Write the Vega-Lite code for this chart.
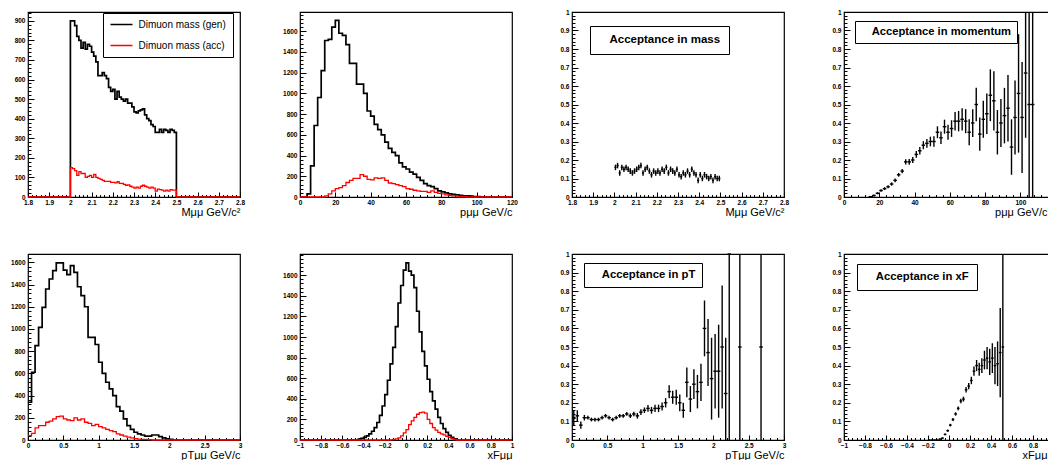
{
"$schema": "https://vega.github.io/schema/vega-lite/v6.json",
"background": "white",
"padding": {"left": 9, "top": 8, "right": 0, "bottom": 0},
"columns": 4,
"spacing": {"row": 57, "column": 60},
"bounds": "flush",
"resolve": {"scale": {"color": "independent"}, "legend": {"color": "independent"}},
"datasets": {
"m_gen": [{"x":1.8,"y":0},{"x":2,"y":900},{"x":2.01,"y":900},{"x":2.02,"y":875},{"x":2.03,"y":820},{"x":2.04,"y":800},{"x":2.05,"y":760},{"x":2.06,"y":790},{"x":2.07,"y":755},{"x":2.08,"y":780},{"x":2.09,"y":770},{"x":2.1,"y":740},{"x":2.11,"y":720},{"x":2.12,"y":690},{"x":2.13,"y":620},{"x":2.14,"y":620},{"x":2.15,"y":635},{"x":2.16,"y":620},{"x":2.17,"y":605},{"x":2.18,"y":560},{"x":2.19,"y":540},{"x":2.2,"y":550},{"x":2.21,"y":500},{"x":2.22,"y":540},{"x":2.23,"y":510},{"x":2.24,"y":500},{"x":2.25,"y":490},{"x":2.26,"y":500},{"x":2.27,"y":480},{"x":2.28,"y":480},{"x":2.29,"y":460},{"x":2.3,"y":435},{"x":2.31,"y":430},{"x":2.32,"y":440},{"x":2.33,"y":445},{"x":2.34,"y":450},{"x":2.35,"y":420},{"x":2.36,"y":400},{"x":2.37,"y":390},{"x":2.38,"y":370},{"x":2.39,"y":360},{"x":2.4,"y":330},{"x":2.41,"y":330},{"x":2.42,"y":345},{"x":2.43,"y":330},{"x":2.44,"y":345},{"x":2.45,"y":340},{"x":2.46,"y":330},{"x":2.47,"y":345},{"x":2.48,"y":340},{"x":2.49,"y":330},{"x":2.5,"y":0},{"x":2.8,"y":0}],
"m_acc": [{"x":1.8,"y":0},{"x":2,"y":150},{"x":2.01,"y":145},{"x":2.02,"y":135},{"x":2.03,"y":110},{"x":2.04,"y":130},{"x":2.05,"y":120},{"x":2.06,"y":120},{"x":2.07,"y":100},{"x":2.08,"y":105},{"x":2.09,"y":110},{"x":2.1,"y":100},{"x":2.11,"y":115},{"x":2.12,"y":100},{"x":2.13,"y":95},{"x":2.14,"y":90},{"x":2.15,"y":85},{"x":2.16,"y":80},{"x":2.17,"y":80},{"x":2.18,"y":80},{"x":2.19,"y":75},{"x":2.2,"y":75},{"x":2.21,"y":72},{"x":2.22,"y":78},{"x":2.23,"y":70},{"x":2.24,"y":70},{"x":2.25,"y":65},{"x":2.26,"y":60},{"x":2.27,"y":62},{"x":2.28,"y":55},{"x":2.29,"y":50},{"x":2.3,"y":45},{"x":2.31,"y":50},{"x":2.32,"y":45},{"x":2.33,"y":55},{"x":2.34,"y":60},{"x":2.35,"y":55},{"x":2.36,"y":50},{"x":2.37,"y":45},{"x":2.38,"y":50},{"x":2.39,"y":45},{"x":2.4,"y":30},{"x":2.41,"y":40},{"x":2.42,"y":38},{"x":2.43,"y":35},{"x":2.44,"y":30},{"x":2.45,"y":35},{"x":2.46,"y":30},{"x":2.47,"y":38},{"x":2.48,"y":35},{"x":2.49,"y":35},{"x":2.5,"y":0},{"x":2.8,"y":0}],
"m_eff": [{"x":2.005,"y":0.16,"ex":0.005,"ey":0.015},{"x":2.015,"y":0.17,"ex":0.005,"ey":0.015},{"x":2.025,"y":0.13,"ex":0.005,"ey":0.015},{"x":2.035,"y":0.16,"ex":0.005,"ey":0.015},{"x":2.045,"y":0.15,"ex":0.005,"ey":0.015},{"x":2.055,"y":0.16,"ex":0.005,"ey":0.015},{"x":2.065,"y":0.15,"ex":0.005,"ey":0.015},{"x":2.075,"y":0.14,"ex":0.005,"ey":0.015},{"x":2.085,"y":0.13,"ex":0.005,"ey":0.015},{"x":2.095,"y":0.14,"ex":0.005,"ey":0.015},{"x":2.105,"y":0.15,"ex":0.005,"ey":0.015},{"x":2.115,"y":0.16,"ex":0.005,"ey":0.015},{"x":2.125,"y":0.17,"ex":0.005,"ey":0.015},{"x":2.135,"y":0.13,"ex":0.005,"ey":0.015},{"x":2.145,"y":0.15,"ex":0.005,"ey":0.015},{"x":2.155,"y":0.16,"ex":0.005,"ey":0.015},{"x":2.165,"y":0.14,"ex":0.005,"ey":0.015},{"x":2.175,"y":0.12,"ex":0.005,"ey":0.015},{"x":2.185,"y":0.14,"ex":0.005,"ey":0.015},{"x":2.195,"y":0.13,"ex":0.005,"ey":0.015},{"x":2.205,"y":0.14,"ex":0.005,"ey":0.015},{"x":2.215,"y":0.13,"ex":0.005,"ey":0.015},{"x":2.225,"y":0.15,"ex":0.005,"ey":0.015},{"x":2.235,"y":0.14,"ex":0.005,"ey":0.015},{"x":2.245,"y":0.16,"ex":0.005,"ey":0.015},{"x":2.255,"y":0.13,"ex":0.005,"ey":0.015},{"x":2.265,"y":0.15,"ex":0.005,"ey":0.015},{"x":2.275,"y":0.14,"ex":0.005,"ey":0.015},{"x":2.285,"y":0.13,"ex":0.005,"ey":0.015},{"x":2.295,"y":0.15,"ex":0.005,"ey":0.015},{"x":2.305,"y":0.12,"ex":0.005,"ey":0.015},{"x":2.315,"y":0.11,"ex":0.005,"ey":0.015},{"x":2.325,"y":0.13,"ex":0.005,"ey":0.015},{"x":2.335,"y":0.12,"ex":0.005,"ey":0.015},{"x":2.345,"y":0.14,"ex":0.005,"ey":0.015},{"x":2.355,"y":0.12,"ex":0.005,"ey":0.015},{"x":2.365,"y":0.15,"ex":0.005,"ey":0.015},{"x":2.375,"y":0.13,"ex":0.005,"ey":0.015},{"x":2.385,"y":0.12,"ex":0.005,"ey":0.015},{"x":2.395,"y":0.09,"ex":0.005,"ey":0.015},{"x":2.405,"y":0.12,"ex":0.005,"ey":0.015},{"x":2.415,"y":0.1,"ex":0.005,"ey":0.015},{"x":2.425,"y":0.12,"ex":0.005,"ey":0.015},{"x":2.435,"y":0.11,"ex":0.005,"ey":0.015},{"x":2.445,"y":0.1,"ex":0.005,"ey":0.015},{"x":2.455,"y":0.11,"ex":0.005,"ey":0.015},{"x":2.465,"y":0.09,"ex":0.005,"ey":0.015},{"x":2.475,"y":0.11,"ex":0.005,"ey":0.015},{"x":2.485,"y":0.1,"ex":0.005,"ey":0.015},{"x":2.495,"y":0.1,"ex":0.005,"ey":0.015}],
"p_gen": [{"x":0,"y":0},{"x":2,"y":0},{"x":4,"y":30},{"x":6,"y":300},{"x":8,"y":690},{"x":10,"y":960},{"x":12,"y":1220},{"x":14,"y":1510},{"x":16,"y":1520},{"x":18,"y":1640},{"x":20,"y":1705},{"x":22,"y":1580},{"x":24,"y":1560},{"x":26,"y":1470},{"x":28,"y":1290},{"x":30,"y":1290},{"x":32,"y":1090},{"x":34,"y":1090},{"x":36,"y":1000},{"x":38,"y":830},{"x":40,"y":780},{"x":42,"y":700},{"x":44,"y":650},{"x":46,"y":600},{"x":48,"y":530},{"x":50,"y":470},{"x":52,"y":430},{"x":54,"y":400},{"x":56,"y":330},{"x":58,"y":290},{"x":60,"y":270},{"x":62,"y":240},{"x":64,"y":220},{"x":66,"y":190},{"x":68,"y":160},{"x":70,"y":130},{"x":72,"y":110},{"x":74,"y":100},{"x":76,"y":80},{"x":78,"y":60},{"x":80,"y":50},{"x":82,"y":40},{"x":84,"y":30},{"x":86,"y":25},{"x":88,"y":20},{"x":90,"y":15},{"x":92,"y":12},{"x":94,"y":10},{"x":96,"y":8},{"x":98,"y":5},{"x":100,"y":3},{"x":102,"y":2},{"x":104,"y":0},{"x":120,"y":0}],
"p_acc": [{"x":0,"y":0},{"x":14,"y":10},{"x":16,"y":30},{"x":18,"y":60},{"x":20,"y":80},{"x":22,"y":90},{"x":24,"y":110},{"x":26,"y":140},{"x":28,"y":160},{"x":30,"y":180},{"x":32,"y":180},{"x":34,"y":215},{"x":36,"y":200},{"x":38,"y":170},{"x":40,"y":165},{"x":42,"y":185},{"x":44,"y":180},{"x":46,"y":185},{"x":48,"y":160},{"x":50,"y":135},{"x":52,"y":130},{"x":54,"y":120},{"x":56,"y":110},{"x":58,"y":100},{"x":60,"y":80},{"x":62,"y":75},{"x":64,"y":65},{"x":66,"y":60},{"x":68,"y":55},{"x":70,"y":55},{"x":72,"y":45},{"x":74,"y":60},{"x":76,"y":45},{"x":78,"y":35},{"x":80,"y":30},{"x":82,"y":20},{"x":84,"y":15},{"x":86,"y":10},{"x":88,"y":8},{"x":90,"y":5},{"x":92,"y":3},{"x":94,"y":0},{"x":120,"y":0}],
"p_eff": [{"x":15,"y":0.002,"ex":1,"ey":0.003},{"x":17,"y":0.008,"ex":1,"ey":0.005},{"x":19,"y":0.02,"ex":1,"ey":0.006},{"x":21,"y":0.035,"ex":1,"ey":0.007},{"x":23,"y":0.045,"ex":1,"ey":0.008},{"x":25,"y":0.055,"ex":1,"ey":0.008},{"x":27,"y":0.07,"ex":1,"ey":0.009},{"x":29,"y":0.09,"ex":1,"ey":0.01},{"x":31,"y":0.12,"ex":1,"ey":0.01},{"x":33,"y":0.14,"ex":1,"ey":0.012},{"x":35,"y":0.19,"ex":1,"ey":0.014},{"x":37,"y":0.19,"ex":1,"ey":0.015},{"x":39,"y":0.2,"ex":1,"ey":0.016},{"x":41,"y":0.23,"ex":1,"ey":0.018},{"x":43,"y":0.25,"ex":1,"ey":0.02},{"x":45,"y":0.28,"ex":1,"ey":0.022},{"x":47,"y":0.29,"ex":1,"ey":0.024},{"x":49,"y":0.3,"ex":1,"ey":0.026},{"x":51,"y":0.3,"ex":1,"ey":0.028},{"x":53,"y":0.35,"ex":1,"ey":0.032},{"x":55,"y":0.32,"ex":1,"ey":0.034},{"x":57,"y":0.38,"ex":1,"ey":0.038},{"x":59,"y":0.35,"ex":1,"ey":0.04},{"x":61,"y":0.37,"ex":1,"ey":0.045},{"x":63,"y":0.41,"ex":1,"ey":0.05},{"x":65,"y":0.41,"ex":1,"ey":0.055},{"x":67,"y":0.42,"ex":1,"ey":0.06},{"x":69,"y":0.41,"ex":1,"ey":0.065},{"x":71,"y":0.35,"ex":1,"ey":0.07},{"x":73,"y":0.4,"ex":1,"ey":0.075},{"x":75,"y":0.5,"ex":1,"ey":0.09},{"x":77,"y":0.34,"ex":1,"ey":0.09},{"x":79,"y":0.42,"ex":1,"ey":0.1},{"x":81,"y":0.45,"ex":1,"ey":0.11},{"x":83,"y":0.55,"ex":1,"ey":0.14},{"x":85,"y":0.52,"ex":1,"ey":0.16},{"x":87,"y":0.35,"ex":1,"ey":0.12},{"x":89,"y":0.4,"ex":1,"ey":0.13},{"x":91,"y":0.44,"ex":1,"ey":0.15},{"x":93,"y":0.48,"ex":1,"ey":0.18},{"x":95,"y":0.27,"ex":1,"ey":0.15},{"x":97,"y":0.43,"ex":1,"ey":0.2},{"x":99,"y":0.56,"ex":1,"ey":0.32},{"x":101,"y":0.43,"ex":1,"ey":0.3},{"x":103,"y":0.67,"ex":1,"ey":0.35},{"x":105,"y":0.5,"ex":1,"ey":1},{"x":107,"y":0.5,"ex":1,"ey":1}],
"pt_gen": [{"x":0,"y":340},{"x":0.05,"y":610},{"x":0.1,"y":850},{"x":0.15,"y":1015},{"x":0.2,"y":1195},{"x":0.25,"y":1360},{"x":0.3,"y":1450},{"x":0.35,"y":1525},{"x":0.4,"y":1595},{"x":0.45,"y":1595},{"x":0.5,"y":1530},{"x":0.55,"y":1490},{"x":0.6,"y":1570},{"x":0.65,"y":1510},{"x":0.7,"y":1380},{"x":0.75,"y":1300},{"x":0.8,"y":1200},{"x":0.85,"y":925},{"x":0.9,"y":925},{"x":0.95,"y":860},{"x":1,"y":700},{"x":1.05,"y":600},{"x":1.1,"y":520},{"x":1.15,"y":460},{"x":1.2,"y":400},{"x":1.25,"y":300},{"x":1.3,"y":260},{"x":1.35,"y":190},{"x":1.4,"y":130},{"x":1.45,"y":95},{"x":1.5,"y":70},{"x":1.55,"y":55},{"x":1.6,"y":45},{"x":1.65,"y":35},{"x":1.7,"y":35},{"x":1.75,"y":45},{"x":1.8,"y":45},{"x":1.85,"y":30},{"x":1.9,"y":20},{"x":1.95,"y":10},{"x":2,"y":5},{"x":2.05,"y":0},{"x":3,"y":0}],
"pt_acc": [{"x":0,"y":40},{"x":0.05,"y":60},{"x":0.1,"y":110},{"x":0.15,"y":130},{"x":0.2,"y":130},{"x":0.25,"y":160},{"x":0.3,"y":170},{"x":0.35,"y":190},{"x":0.4,"y":210},{"x":0.45,"y":215},{"x":0.5,"y":190},{"x":0.55,"y":180},{"x":0.6,"y":175},{"x":0.65,"y":200},{"x":0.7,"y":180},{"x":0.75,"y":190},{"x":0.8,"y":160},{"x":0.85,"y":150},{"x":0.9,"y":130},{"x":0.95,"y":140},{"x":1,"y":120},{"x":1.05,"y":110},{"x":1.1,"y":95},{"x":1.15,"y":85},{"x":1.2,"y":75},{"x":1.25,"y":55},{"x":1.3,"y":45},{"x":1.35,"y":35},{"x":1.4,"y":25},{"x":1.45,"y":20},{"x":1.5,"y":12},{"x":1.55,"y":8},{"x":1.6,"y":5},{"x":1.65,"y":5},{"x":1.7,"y":3},{"x":1.75,"y":0},{"x":3,"y":0}],
"pt_eff": [{"x":0.025,"y":0.12,"ex":0.025,"ey":0.04},{"x":0.075,"y":0.13,"ex":0.025,"ey":0.03},{"x":0.125,"y":0.08,"ex":0.025,"ey":0.02},{"x":0.175,"y":0.12,"ex":0.025,"ey":0.015},{"x":0.225,"y":0.12,"ex":0.025,"ey":0.01},{"x":0.275,"y":0.11,"ex":0.025,"ey":0.01},{"x":0.325,"y":0.11,"ex":0.025,"ey":0.01},{"x":0.375,"y":0.11,"ex":0.025,"ey":0.01},{"x":0.425,"y":0.12,"ex":0.025,"ey":0.01},{"x":0.475,"y":0.13,"ex":0.025,"ey":0.01},{"x":0.525,"y":0.12,"ex":0.025,"ey":0.01},{"x":0.575,"y":0.11,"ex":0.025,"ey":0.01},{"x":0.625,"y":0.12,"ex":0.025,"ey":0.01},{"x":0.675,"y":0.13,"ex":0.025,"ey":0.01},{"x":0.725,"y":0.13,"ex":0.025,"ey":0.01},{"x":0.775,"y":0.14,"ex":0.025,"ey":0.01},{"x":0.825,"y":0.13,"ex":0.025,"ey":0.012},{"x":0.875,"y":0.14,"ex":0.025,"ey":0.012},{"x":0.925,"y":0.13,"ex":0.025,"ey":0.015},{"x":0.975,"y":0.15,"ex":0.025,"ey":0.015},{"x":1.025,"y":0.16,"ex":0.025,"ey":0.015},{"x":1.075,"y":0.17,"ex":0.025,"ey":0.018},{"x":1.125,"y":0.16,"ex":0.025,"ey":0.018},{"x":1.175,"y":0.17,"ex":0.025,"ey":0.02},{"x":1.225,"y":0.17,"ex":0.025,"ey":0.02},{"x":1.275,"y":0.18,"ex":0.025,"ey":0.022},{"x":1.325,"y":0.2,"ex":0.025,"ey":0.025},{"x":1.375,"y":0.26,"ex":0.025,"ey":0.035},{"x":1.425,"y":0.23,"ex":0.025,"ey":0.035},{"x":1.475,"y":0.23,"ex":0.025,"ey":0.04},{"x":1.525,"y":0.2,"ex":0.025,"ey":0.045},{"x":1.575,"y":0.16,"ex":0.025,"ey":0.04},{"x":1.625,"y":0.31,"ex":0.025,"ey":0.08},{"x":1.675,"y":0.22,"ex":0.025,"ey":0.07},{"x":1.725,"y":0.3,"ex":0.025,"ey":0.08},{"x":1.775,"y":0.26,"ex":0.025,"ey":0.09},{"x":1.825,"y":0.31,"ex":0.025,"ey":0.1},{"x":1.875,"y":0.6,"ex":0.025,"ey":0.15},{"x":1.925,"y":0.47,"ex":0.025,"ey":0.18},{"x":1.975,"y":0.33,"ex":0.025,"ey":0.22},{"x":2.025,"y":0.37,"ex":0.025,"ey":0.2},{"x":2.075,"y":0.37,"ex":0.025,"ey":0.25},{"x":2.125,"y":0.5,"ex":0.025,"ey":0.33},{"x":2.175,"y":0.25,"ex":0.025,"ey":0.3},{"x":2.225,"y":1,"ex":0.025,"ey":1},{"x":2.375,"y":0.5,"ex":0.025,"ey":1},{"x":2.675,"y":0.5,"ex":0.025,"ey":1}],
"xf_gen": [{"x":-1,"y":0},{"x":-0.45,"y":8},{"x":-0.425,"y":15},{"x":-0.4,"y":25},{"x":-0.375,"y":40},{"x":-0.35,"y":60},{"x":-0.325,"y":85},{"x":-0.3,"y":120},{"x":-0.275,"y":170},{"x":-0.25,"y":240},{"x":-0.225,"y":330},{"x":-0.2,"y":440},{"x":-0.175,"y":580},{"x":-0.15,"y":740},{"x":-0.125,"y":900},{"x":-0.1,"y":1100},{"x":-0.075,"y":1330},{"x":-0.05,"y":1500},{"x":-0.025,"y":1650},{"x":0,"y":1720},{"x":0.025,"y":1640},{"x":0.05,"y":1600},{"x":0.075,"y":1480},{"x":0.1,"y":1250},{"x":0.125,"y":1050},{"x":0.15,"y":860},{"x":0.175,"y":720},{"x":0.2,"y":590},{"x":0.225,"y":470},{"x":0.25,"y":380},{"x":0.275,"y":300},{"x":0.3,"y":220},{"x":0.325,"y":160},{"x":0.35,"y":110},{"x":0.375,"y":75},{"x":0.4,"y":45},{"x":0.425,"y":25},{"x":0.45,"y":10},{"x":0.475,"y":0},{"x":1,"y":0}],
"xf_acc": [{"x":-1,"y":0},{"x":-0.15,"y":2},{"x":-0.125,"y":5},{"x":-0.1,"y":10},{"x":-0.075,"y":20},{"x":-0.05,"y":40},{"x":-0.025,"y":70},{"x":0,"y":100},{"x":0.025,"y":150},{"x":0.05,"y":185},{"x":0.075,"y":220},{"x":0.1,"y":250},{"x":0.125,"y":265},{"x":0.15,"y":270},{"x":0.175,"y":260},{"x":0.2,"y":200},{"x":0.225,"y":160},{"x":0.25,"y":120},{"x":0.275,"y":95},{"x":0.3,"y":75},{"x":0.325,"y":60},{"x":0.35,"y":50},{"x":0.375,"y":35},{"x":0.4,"y":25},{"x":0.425,"y":12},{"x":0.45,"y":5},{"x":0.475,"y":0},{"x":1,"y":0}],
"xf_eff": [{"x":-0.1875,"y":0,"ex":0.0125,"ey":0.002},{"x":-0.1625,"y":0,"ex":0.0125,"ey":0.002},{"x":-0.1375,"y":0,"ex":0.0125,"ey":0.002},{"x":-0.1125,"y":0,"ex":0.0125,"ey":0.003},{"x":-0.0875,"y":0.005,"ex":0.0125,"ey":0.003},{"x":-0.0625,"y":0.01,"ex":0.0125,"ey":0.004},{"x":-0.0375,"y":0.03,"ex":0.0125,"ey":0.005},{"x":-0.0125,"y":0.05,"ex":0.0125,"ey":0.006},{"x":0.0125,"y":0.08,"ex":0.0125,"ey":0.007},{"x":0.0375,"y":0.11,"ex":0.0125,"ey":0.008},{"x":0.0625,"y":0.14,"ex":0.0125,"ey":0.009},{"x":0.0875,"y":0.17,"ex":0.0125,"ey":0.01},{"x":0.1125,"y":0.21,"ex":0.0125,"ey":0.012},{"x":0.1375,"y":0.22,"ex":0.0125,"ey":0.013},{"x":0.1625,"y":0.27,"ex":0.0125,"ey":0.015},{"x":0.1875,"y":0.29,"ex":0.0125,"ey":0.017},{"x":0.2125,"y":0.32,"ex":0.0125,"ey":0.02},{"x":0.2375,"y":0.37,"ex":0.0125,"ey":0.025},{"x":0.2625,"y":0.4,"ex":0.0125,"ey":0.03},{"x":0.2875,"y":0.38,"ex":0.0125,"ey":0.035},{"x":0.3125,"y":0.4,"ex":0.0125,"ey":0.04},{"x":0.3375,"y":0.43,"ex":0.0125,"ey":0.05},{"x":0.3625,"y":0.44,"ex":0.0125,"ey":0.06},{"x":0.3875,"y":0.42,"ex":0.0125,"ey":0.07},{"x":0.4125,"y":0.44,"ex":0.0125,"ey":0.08},{"x":0.4375,"y":0.4,"ex":0.0125,"ey":0.1},{"x":0.4625,"y":0.41,"ex":0.0125,"ey":0.12},{"x":0.4875,"y":0.47,"ex":0.0125,"ey":0.24},{"x":0.5125,"y":0.5,"ex":0.0125,"ey":1}]
},
"concat": [
{
"width": 212, "height": 185,
"resolve": {"axis": {"x": "independent", "y": "independent"}},
"layer": [
{"data": {"name": "m_gen"}, "mark": {"type": "line", "interpolate": "step-after", "strokeWidth": 1.7},
 "encoding": {
  "x": {"field": "x", "type": "quantitative", "scale": {"domain": [1.8, 2.8], "nice": false, "zero": false},
   "axis": {"title": "Mμμ GeV/c²", "orient": "bottom", "values": [1.8,1.9,2,2.1,2.2,2.3,2.4,2.5,2.6,2.7,2.8], "format": "~g", "tickSize": -5, "labelPadding": 7}},
  "y": {"field": "y", "type": "quantitative", "scale": {"domain": [0, 945], "nice": false},
   "axis": {"title": null, "orient": "left", "values": [0,100,200,300,400,500,600,700,800,900], "format": "d", "tickSize": -6, "labelPadding": 9}},
  "color": {"datum": "Dimuon mass (gen)", "scale": {"domain": ["Dimuon mass (gen)", "Dimuon mass (acc)"], "range": ["#000000", "#ff0000"]},
   "legend": {"orient": "none", "legendX": 75, "legendY": 1, "title": null, "strokeColor": "black", "fillColor": "white", "padding": 6.5, "symbolType": "stroke", "symbolSize": 484, "symbolStrokeWidth": 1.5, "clipHeight": 10, "rowPadding": 11, "labelOffset": 5, "labelFontSize": 10, "labelFont": "Liberation Sans"}}
 }},
{"data": {"name": "m_acc"}, "mark": {"type": "line", "interpolate": "step-after", "strokeWidth": 1.3},
 "encoding": {
  "x": {"field": "x", "type": "quantitative", "axis": {"title": null, "orient": "bottom", "labels": false, "tickSize": -2.5, "values": [1.8,1.82,1.84,1.86,1.88,1.9,1.92,1.94,1.96,1.98,2,2.02,2.04,2.06,2.08,2.1,2.12,2.14,2.16,2.18,2.2,2.22,2.24,2.26,2.28,2.3,2.32,2.34,2.36,2.38,2.4,2.42,2.44,2.46,2.48,2.5,2.52,2.54,2.56,2.58,2.6,2.62,2.64,2.66,2.68,2.7,2.72,2.74,2.76,2.78,2.8]}},
  "y": {"field": "y", "type": "quantitative", "axis": {"title": null, "orient": "left", "labels": false, "tickSize": -3, "values": [0,20,40,60,80,100,120,140,160,180,200,220,240,260,280,300,320,340,360,380,400,420,440,460,480,500,520,540,560,580,600,620,640,660,680,700,720,740,760,780,800,820,840,860,880,900,920,940]}},
  "color": {"datum": "Dimuon mass (acc)"}}}
]
},
{
"width": 212, "height": 185,
"resolve": {"axis": {"x": "independent", "y": "independent"}},
"layer": [
{"data": {"name": "p_gen"}, "mark": {"type": "line", "interpolate": "step-after", "strokeWidth": 1.7, "color": "#000000"},
 "encoding": {
  "x": {"field": "x", "type": "quantitative", "scale": {"domain": [0, 120], "nice": false},
   "axis": {"title": "pμμ GeV/c", "orient": "bottom", "values": [0,20,40,60,80,100,120], "format": "d", "tickSize": -5, "labelPadding": 7}},
  "y": {"field": "y", "type": "quantitative", "scale": {"domain": [0, 1785], "nice": false},
   "axis": {"title": null, "orient": "left", "values": [0,200,400,600,800,1000,1200,1400,1600], "format": "d", "tickSize": -6, "labelPadding": 9}}
 }},
{"data": {"name": "p_acc"}, "mark": {"type": "line", "interpolate": "step-after", "strokeWidth": 1.3, "color": "#ff0000"},
 "encoding": {
  "x": {"field": "x", "type": "quantitative", "axis": {"title": null, "orient": "bottom", "labels": false, "tickSize": -2.5, "values": [0,4,8,12,16,20,24,28,32,36,40,44,48,52,56,60,64,68,72,76,80,84,88,92,96,100,104,108,112,116,120]}},
  "y": {"field": "y", "type": "quantitative", "axis": {"title": null, "orient": "left", "labels": false, "tickSize": -3, "values": [0,40,80,120,160,200,240,280,320,360,400,440,480,520,560,600,640,680,720,760,800,840,880,920,960,1000,1040,1080,1120,1160,1200,1240,1280,1320,1360,1400,1440,1480,1520,1560,1600,1640,1680,1720,1760]}}}}
]
},
{
"width": 212, "height": 185,
"data": {"name": "m_eff"},
"resolve": {"axis": {"x": "independent", "y": "independent"}},
"layer": [
{"mark": {"type": "errorbar", "thickness": 1.4},
 "encoding": {
  "x": {"field": "x", "type": "quantitative", "scale": {"domain": [1.8, 2.8], "nice": false, "zero": false},
   "axis": {"title": "Mμμ GeV/c²", "orient": "bottom", "values": [1.8,1.9,2,2.1,2.2,2.3,2.4,2.5,2.6,2.7,2.8], "format": "~g", "tickSize": -5, "labelPadding": 7}},
  "y": {"field": "y", "type": "quantitative", "scale": {"domain": [0, 1], "nice": false, "clamp": true},
   "axis": {"title": null, "orient": "left", "values": [0,0.1,0.2,0.3,0.4,0.5,0.6,0.7,0.8,0.9,1], "format": "~g", "tickSize": -6, "labelPadding": 9}},
  "yError": {"field": "ey"},
  "color": {"datum": "Acceptance in mass", "scale": {"range": ["#000000"]},
   "legend": {"orient": "none", "legendX": 18, "legendY": 14, "title": null, "strokeColor": "black", "fillColor": "white", "padding": 8, "symbolSize": 0, "symbolOpacity": 0, "labelOffset": 0, "labelFontSize": 11.5, "labelFontWeight": "bold", "labelFont": "Liberation Sans"}}
 }},
{"mark": {"type": "errorbar", "thickness": 1.4},
 "encoding": {
  "x": {"field": "x", "type": "quantitative", "axis": {"title": null, "orient": "bottom", "labels": false, "tickSize": -2.5, "values": [1.8,1.82,1.84,1.86,1.88,1.9,1.92,1.94,1.96,1.98,2,2.02,2.04,2.06,2.08,2.1,2.12,2.14,2.16,2.18,2.2,2.22,2.24,2.26,2.28,2.3,2.32,2.34,2.36,2.38,2.4,2.42,2.44,2.46,2.48,2.5,2.52,2.54,2.56,2.58,2.6,2.62,2.64,2.66,2.68,2.7,2.72,2.74,2.76,2.78,2.8]}},
  "xError": {"field": "ex"},
  "y": {"field": "y", "type": "quantitative", "axis": {"title": null, "orient": "left", "labels": false, "tickSize": -3, "values": [0,0.02,0.04,0.06,0.08,0.1,0.12,0.14,0.16,0.18,0.2,0.22,0.24,0.26,0.28,0.3,0.32,0.34,0.36,0.38,0.4,0.42,0.44,0.46,0.48,0.5,0.52,0.54,0.56,0.58,0.6,0.62,0.64,0.66,0.68,0.7,0.72,0.74,0.76,0.78,0.8,0.82,0.84,0.86,0.88,0.9,0.92,0.94,0.96,0.98,1]}},
  "color": {"datum": "Acceptance in mass"}}}
]
},
{
"width": 207, "height": 185,
"data": {"name": "p_eff"},
"resolve": {"axis": {"x": "independent", "y": "independent"}},
"layer": [
{"mark": {"type": "errorbar", "thickness": 1.4},
 "encoding": {
  "x": {"field": "x", "type": "quantitative", "scale": {"domain": [0, 117.4], "nice": false},
   "axis": {"title": "pμμ GeV/c", "titleX": 203, "orient": "bottom", "values": [0,20,40,60,80,100], "format": "d", "tickSize": -5, "labelPadding": 7}},
  "y": {"field": "y", "type": "quantitative", "scale": {"domain": [0, 1], "nice": false, "clamp": true},
   "axis": {"title": null, "orient": "left", "values": [0,0.1,0.2,0.3,0.4,0.5,0.6,0.7,0.8,0.9,1], "format": "~g", "tickSize": -6, "labelPadding": 9}},
  "yError": {"field": "ey"},
  "color": {"datum": "Acceptance in momentum", "scale": {"range": ["#000000"]},
   "legend": {"orient": "none", "legendX": 11, "legendY": 9, "title": null, "strokeColor": "black", "fillColor": "white", "padding": 5.5, "symbolSize": 0, "symbolOpacity": 0, "labelOffset": 0, "labelFontSize": 11.2, "labelFontWeight": "bold", "labelFont": "Liberation Sans"}}
 }},
{"mark": {"type": "errorbar", "thickness": 1.4},
 "encoding": {
  "x": {"field": "x", "type": "quantitative", "axis": {"title": null, "orient": "bottom", "labels": false, "tickSize": -2.5, "values": [0,4,8,12,16,20,24,28,32,36,40,44,48,52,56,60,64,68,72,76,80,84,88,92,96,100,104,108,112,116]}},
  "xError": {"field": "ex"},
  "y": {"field": "y", "type": "quantitative", "axis": {"title": null, "orient": "left", "labels": false, "tickSize": -3, "values": [0,0.02,0.04,0.06,0.08,0.1,0.12,0.14,0.16,0.18,0.2,0.22,0.24,0.26,0.28,0.3,0.32,0.34,0.36,0.38,0.4,0.42,0.44,0.46,0.48,0.5,0.52,0.54,0.56,0.58,0.6,0.62,0.64,0.66,0.68,0.7,0.72,0.74,0.76,0.78,0.8,0.82,0.84,0.86,0.88,0.9,0.92,0.94,0.96,0.98,1]}},
  "color": {"datum": "Acceptance in momentum"}}}
]
},
{
"width": 212, "height": 186,
"resolve": {"axis": {"x": "independent", "y": "independent"}},
"layer": [
{"data": {"name": "pt_gen"}, "mark": {"type": "line", "interpolate": "step-after", "strokeWidth": 1.7, "color": "#000000"},
 "encoding": {
  "x": {"field": "x", "type": "quantitative", "scale": {"domain": [0, 3], "nice": false},
   "axis": {"title": "pTμμ GeV/c", "orient": "bottom", "values": [0,0.5,1,1.5,2,2.5,3], "format": "~g", "tickSize": -5, "labelPadding": 7}},
  "y": {"field": "y", "type": "quantitative", "scale": {"domain": [0, 1675], "nice": false},
   "axis": {"title": null, "orient": "left", "values": [0,200,400,600,800,1000,1200,1400,1600], "format": "d", "tickSize": -6, "labelPadding": 9}}
 }},
{"data": {"name": "pt_acc"}, "mark": {"type": "line", "interpolate": "step-after", "strokeWidth": 1.3, "color": "#ff0000"},
 "encoding": {
  "x": {"field": "x", "type": "quantitative", "axis": {"title": null, "orient": "bottom", "labels": false, "tickSize": -2.5, "values": [0,0.1,0.2,0.3,0.4,0.5,0.6,0.7,0.8,0.9,1,1.1,1.2,1.3,1.4,1.5,1.6,1.7,1.8,1.9,2,2.1,2.2,2.3,2.4,2.5,2.6,2.7,2.8,2.9,3]}},
  "y": {"field": "y", "type": "quantitative", "axis": {"title": null, "orient": "left", "labels": false, "tickSize": -3, "values": [0,40,80,120,160,200,240,280,320,360,400,440,480,520,560,600,640,680,720,760,800,840,880,920,960,1000,1040,1080,1120,1160,1200,1240,1280,1320,1360,1400,1440,1480,1520,1560,1600,1640]}}}}
]
},
{
"width": 212, "height": 186,
"resolve": {"axis": {"x": "independent", "y": "independent"}},
"layer": [
{"data": {"name": "xf_gen"}, "mark": {"type": "line", "interpolate": "step-after", "strokeWidth": 1.7, "color": "#000000"},
 "encoding": {
  "x": {"field": "x", "type": "quantitative", "scale": {"domain": [-1, 1], "nice": false, "zero": false},
   "axis": {"title": "xFμμ", "orient": "bottom", "values": [-1,-0.8,-0.6,-0.4,-0.2,0,0.2,0.4,0.6,0.8,1], "format": "~g", "tickSize": -5, "labelPadding": 7}},
  "y": {"field": "y", "type": "quantitative", "scale": {"domain": [0, 1806], "nice": false},
   "axis": {"title": null, "orient": "left", "values": [0,200,400,600,800,1000,1200,1400,1600], "format": "d", "tickSize": -6, "labelPadding": 9}}
 }},
{"data": {"name": "xf_acc"}, "mark": {"type": "line", "interpolate": "step-after", "strokeWidth": 1.3, "color": "#ff0000"},
 "encoding": {
  "x": {"field": "x", "type": "quantitative", "axis": {"title": null, "orient": "bottom", "labels": false, "tickSize": -2.5, "values": [-1,-0.96,-0.92,-0.88,-0.84,-0.8,-0.76,-0.72,-0.68,-0.64,-0.6,-0.56,-0.52,-0.48,-0.44,-0.4,-0.36,-0.32,-0.28,-0.24,-0.2,-0.16,-0.12,-0.08,-0.04,0,0.04,0.08,0.12,0.16,0.2,0.24,0.28,0.32,0.36,0.4,0.44,0.48,0.52,0.56,0.6,0.64,0.68,0.72,0.76,0.8,0.84,0.88,0.92,0.96,1]}},
  "y": {"field": "y", "type": "quantitative", "axis": {"title": null, "orient": "left", "labels": false, "tickSize": -3, "values": [0,40,80,120,160,200,240,280,320,360,400,440,480,520,560,600,640,680,720,760,800,840,880,920,960,1000,1040,1080,1120,1160,1200,1240,1280,1320,1360,1400,1440,1480,1520,1560,1600,1640,1680,1720,1760,1800]}}}}
]
},
{
"width": 212, "height": 186,
"data": {"name": "pt_eff"},
"resolve": {"axis": {"x": "independent", "y": "independent"}},
"layer": [
{"mark": {"type": "errorbar", "thickness": 1.4},
 "encoding": {
  "x": {"field": "x", "type": "quantitative", "scale": {"domain": [0, 3], "nice": false},
   "axis": {"title": "pTμμ GeV/c", "orient": "bottom", "values": [0,0.5,1,1.5,2,2.5,3], "format": "~g", "tickSize": -5, "labelPadding": 7}},
  "y": {"field": "y", "type": "quantitative", "scale": {"domain": [0, 1], "nice": false, "clamp": true},
   "axis": {"title": null, "orient": "left", "values": [0,0.1,0.2,0.3,0.4,0.5,0.6,0.7,0.8,0.9,1], "format": "~g", "tickSize": -6, "labelPadding": 9}},
  "yError": {"field": "ey"},
  "color": {"datum": "Acceptance in pT", "scale": {"range": ["#000000"]},
   "legend": {"orient": "none", "legendX": 12, "legendY": 9, "title": null, "strokeColor": "black", "fillColor": "white", "padding": 6.5, "symbolSize": 0, "symbolOpacity": 0, "labelOffset": 0, "labelFontSize": 11.3, "labelFontWeight": "bold", "labelFont": "Liberation Sans"}}
 }},
{"mark": {"type": "errorbar", "thickness": 1.4},
 "encoding": {
  "x": {"field": "x", "type": "quantitative", "axis": {"title": null, "orient": "bottom", "labels": false, "tickSize": -2.5, "values": [0,0.1,0.2,0.3,0.4,0.5,0.6,0.7,0.8,0.9,1,1.1,1.2,1.3,1.4,1.5,1.6,1.7,1.8,1.9,2,2.1,2.2,2.3,2.4,2.5,2.6,2.7,2.8,2.9,3]}},
  "xError": {"field": "ex"},
  "y": {"field": "y", "type": "quantitative", "axis": {"title": null, "orient": "left", "labels": false, "tickSize": -3, "values": [0,0.02,0.04,0.06,0.08,0.1,0.12,0.14,0.16,0.18,0.2,0.22,0.24,0.26,0.28,0.3,0.32,0.34,0.36,0.38,0.4,0.42,0.44,0.46,0.48,0.5,0.52,0.54,0.56,0.58,0.6,0.62,0.64,0.66,0.68,0.7,0.72,0.74,0.76,0.78,0.8,0.82,0.84,0.86,0.88,0.9,0.92,0.94,0.96,0.98,1]}},
  "color": {"datum": "Acceptance in pT"}}}
]
},
{
"width": 207, "height": 186,
"data": {"name": "xf_eff"},
"resolve": {"axis": {"x": "independent", "y": "independent"}},
"layer": [
{"mark": {"type": "errorbar", "thickness": 1.4},
 "encoding": {
  "x": {"field": "x", "type": "quantitative", "scale": {"domain": [-1, 0.971], "nice": false, "zero": false},
   "axis": {"title": "xFμμ", "titleX": 203, "orient": "bottom", "values": [-1,-0.8,-0.6,-0.4,-0.2,0,0.2,0.4,0.6,0.8], "format": "~g", "tickSize": -5, "labelPadding": 7}},
  "y": {"field": "y", "type": "quantitative", "scale": {"domain": [0, 1], "nice": false, "clamp": true},
   "axis": {"title": null, "orient": "left", "values": [0,0.1,0.2,0.3,0.4,0.5,0.6,0.7,0.8,0.9,1], "format": "~g", "tickSize": -6, "labelPadding": 9}},
  "yError": {"field": "ey"},
  "color": {"datum": "Acceptance in xF", "scale": {"range": ["#000000"]},
   "legend": {"orient": "none", "legendX": 13, "legendY": 10, "title": null, "strokeColor": "black", "fillColor": "white", "padding": 7.5, "symbolSize": 0, "symbolOpacity": 0, "labelOffset": 0, "labelFontSize": 11.3, "labelFontWeight": "bold", "labelFont": "Liberation Sans"}}
 }},
{"mark": {"type": "errorbar", "thickness": 1.4},
 "encoding": {
  "x": {"field": "x", "type": "quantitative", "axis": {"title": null, "orient": "bottom", "labels": false, "tickSize": -2.5, "values": [-1,-0.96,-0.92,-0.88,-0.84,-0.8,-0.76,-0.72,-0.68,-0.64,-0.6,-0.56,-0.52,-0.48,-0.44,-0.4,-0.36,-0.32,-0.28,-0.24,-0.2,-0.16,-0.12,-0.08,-0.04,0,0.04,0.08,0.12,0.16,0.2,0.24,0.28,0.32,0.36,0.4,0.44,0.48,0.52,0.56,0.6,0.64,0.68,0.72,0.76,0.8,0.84,0.88,0.92,0.96]}},
  "xError": {"field": "ex"},
  "y": {"field": "y", "type": "quantitative", "axis": {"title": null, "orient": "left", "labels": false, "tickSize": -3, "values": [0,0.02,0.04,0.06,0.08,0.1,0.12,0.14,0.16,0.18,0.2,0.22,0.24,0.26,0.28,0.3,0.32,0.34,0.36,0.38,0.4,0.42,0.44,0.46,0.48,0.5,0.52,0.54,0.56,0.58,0.6,0.62,0.64,0.66,0.68,0.7,0.72,0.74,0.76,0.78,0.8,0.82,0.84,0.86,0.88,0.9,0.92,0.94,0.96,0.98,1]}},
  "color": {"datum": "Acceptance in xF"}}}
]
}
],
"config": {
 "view": {"stroke": "#000000", "strokeWidth": 1.2},
 "axis": {"grid": false, "domain": false, "labelFont": "Liberation Sans", "labelFontSize": 6.5, "labelFontWeight": "bold", "labelColor": "#000000", "tickColor": "#000000", "tickWidth": 1, "labelOverlap": false, "labelFlush": false, "titleFont": "Liberation Sans", "titleFontSize": 11, "titleFontWeight": "normal", "titleColor": "#000000"},
 "axisX": {"titleAnchor": "end", "titleAlign": "right", "titlePadding": 1},
 "legend": {"labelColor": "#000000"}
}
}
